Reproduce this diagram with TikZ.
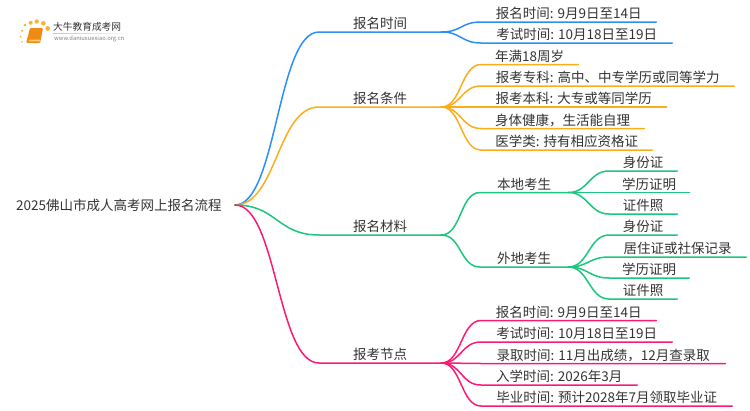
\documentclass[tikz,border=0pt]{standalone}
\usepackage{fontspec}
\setmainfont{Noto Sans CJK SC}
\definecolor{lineblue}{HTML}{2B8FFB}
\definecolor{lineamber}{HTML}{FBAE1B}
\definecolor{linegreen}{HTML}{1BC67E}
\definecolor{linepink}{HTML}{FB1B76}
\definecolor{labelgray}{HTML}{333333}
\definecolor{logoamber}{HTML}{F9B233}
\definecolor{logobook}{HTML}{F18A12}
\tikzset{
    label/.style={inner xsep=0pt,inner ysep=0pt,text height=10pt,text depth=3pt,
        text=labelgray,font=\fontsize{13.5}{16}\selectfont,anchor=south west},
    wire/.style={line width=1.5pt,line cap=round,line join=round},
    logodot/.style={circle,fill=logoamber,inner sep=0pt,minimum size=#1},
}
\begin{document}
\begin{tikzpicture}[x=1pt,y=-1pt]
    \useasboundingbox (0,0) rectangle (750,410);

    \node[logodot=1.8pt] (d1) at (22,41.7) {};
    \node[logodot=2pt] (d2) at (20.7,36.7) {};
    \node[logodot=2.4pt] (d3) at (22,30.7) {};
    \node[logodot=3pt] (d4) at (25,25) {};
    \node[logodot=4pt] (d5) at (30.7,22.8) {};
    \node[logodot=4.4pt] (d6) at (36.7,21.5) {};
    \node[logodot=4.6pt] (d7) at (43.3,23.3) {};
    \node[logodot=4.8pt] (d8) at (47.7,28.5) {};
    \fill[logobook,rounded corners=1pt] (30,28) -- (43,28) -- (40.2,42.8) -- (26.2,42.8) -- cycle;
    \fill[logoamber!70!white] (29.2,39.6) -- (40.7,39.6) -- (40.3,41.3) -- (28.7,41.3) -- cycle;
    \node[inner sep=0pt,anchor=west,text=labelgray,font=\fontsize{9.7}{11}\selectfont] (logoname) at (53,27) {大牛教育成考网};
    \node[inner sep=0pt,anchor=west,text=gray,font=\fontsize{5.8}{7}\selectfont] (logourl) at (54,38.7) {www.daniuxuexiao.org.cn};
    \shade[left color=gray!45,right color=white] (53,33) rectangle (134,33.5);

    \node[label,text depth=0pt,minimum width=232pt,anchor=east] (root) at (235,205) {2025佛山市成人高考网上报名流程};

    \node[label,minimum width=122pt] (time) at (319,32) {报名时间};
    \node[label,minimum width=122pt] (cond) at (319,107) {报名条件};
    \node[label,minimum width=122pt] (docs) at (319,235) {报名材料};
    \node[label,minimum width=122pt] (node) at (319,363) {报考节点};

    \node[label,minimum width=175pt] (time1) at (481,22) {报名时间: 9月9日至14日};
    \node[label,minimum width=191pt] (time2) at (481,43) {考试时间: 10月18日至19日};

    \node[label,minimum width=97pt] (cond1) at (481,64.5) {年满18周岁};
    \node[label,minimum width=253pt] (cond2) at (481,86) {报考专科: 高中、中专学历或同等学力};
    \node[label,minimum width=185pt] (cond3) at (481,107) {报考本科: 大专或等同学历};
    \node[label,minimum width=163pt] (cond4) at (481,128.5) {身体健康，生活能自理};
    \node[label,minimum width=171pt] (cond5) at (481,150) {医学类: 持有相应资格证};

    \node[label,minimum width=88pt] (local) at (480,192.5) {本地考生};
    \node[label,minimum width=88pt] (other) at (480,267) {外地考生};

    \node[label,minimum width=68pt] (local1) at (609,171) {身份证};
    \node[label,minimum width=80pt] (local2) at (609,192.5) {学历证明};
    \node[label,minimum width=68pt] (local3) at (609,214) {证件照};

    \node[label,minimum width=68pt] (other1) at (609,235) {身份证};
    \node[label,minimum width=137pt] (other2) at (609,257) {居住证或社保记录};
    \node[label,minimum width=80pt] (other3) at (609,278) {学历证明};
    \node[label,minimum width=68pt] (other4) at (609,299) {证件照};

    \node[label,minimum width=175pt] (node1) at (481,320.5) {报名时间: 9月9日至14日};
    \node[label,minimum width=191pt] (node2) at (481,342) {考试时间: 10月18日至19日};
    \node[label,minimum width=244pt] (node3) at (481,363.5) {录取时间: 11月出成绩，12月查录取};
    \node[label,minimum width=156pt] (node4) at (481,385) {入学时间: 2026年3月};
    \node[label,minimum width=251pt] (node5) at (481,406) {毕业时间: 预计2028年7月领取毕业证};

    \foreach \from/\to/\col in {root.east/time/lineblue,root.east/cond/lineamber,root.east/docs/linegreen,root.east/node/linepink}
        \draw[wire,\col] (\from) .. controls +(42,0) and +(-42,0) .. (\to.south west) -- (\to.south east) ;

    \foreach \to in {time1,time2}
        \draw[wire,lineblue] (time.south east) .. controls +(20,0) and +(-20,0) .. (\to.south west) -- (\to.south east) ;
    \foreach \to in {cond1,cond2,cond3,cond4,cond5}
        \draw[wire,lineamber] (cond.south east) .. controls +(20,0) and +(-20,0) .. (\to.south west) -- (\to.south east) ;
    \foreach \to in {local,other}
        \draw[wire,linegreen] (docs.south east) .. controls +(20,0) and +(-20,0) .. (\to.south west) -- (\to.south east) ;
    \foreach \to in {local1,local2,local3}
        \draw[wire,linegreen] (local.south east) .. controls +(20,0) and +(-20,0) .. (\to.south west) -- (\to.south east) ;
    \foreach \to in {other1,other2,other3,other4}
        \draw[wire,linegreen] (other.south east) .. controls +(20,0) and +(-20,0) .. (\to.south west) -- (\to.south east) ;
    \foreach \to in {node1,node2,node3,node4,node5}
        \draw[wire,linepink] (node.south east) .. controls +(20,0) and +(-20,0) .. (\to.south west) -- (\to.south east) ;
\end{tikzpicture}
\end{document}
